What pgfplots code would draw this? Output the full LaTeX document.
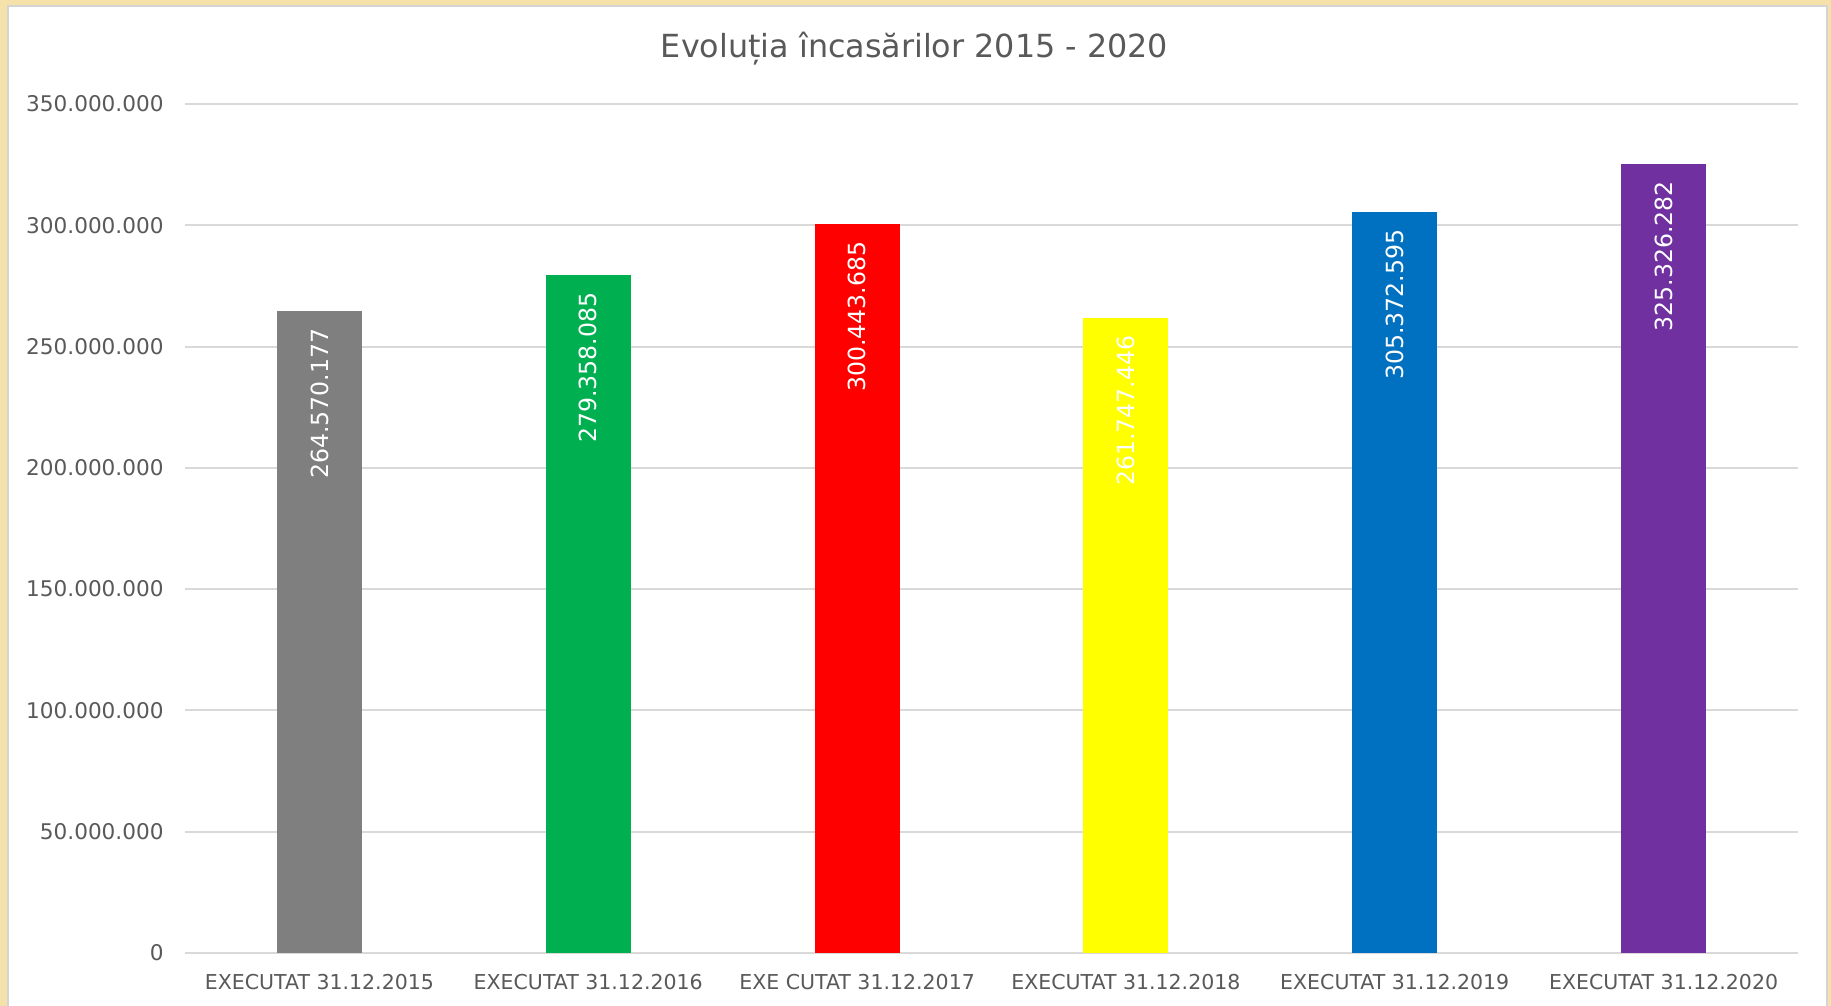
\documentclass[border=0pt]{standalone}
\usepackage{pgfplots}
\pgfplotsset{compat=1.18}
\usepackage{fontspec}
\setmainfont{DejaVu Sans}
\definecolor{bg}{RGB}{244,226,170}
\definecolor{panelgray}{RGB}{212,212,212}
\definecolor{gridgray}{RGB}{217,217,217}
\definecolor{txtgray}{RGB}{89,89,89}
\definecolor{c1}{RGB}{127,127,127}
\definecolor{c2}{RGB}{0,176,80}
\definecolor{c3}{RGB}{255,0,0}
\definecolor{c4}{RGB}{255,255,0}
\definecolor{c5}{RGB}{0,112,192}
\definecolor{c6}{RGB}{112,48,160}
\begin{document}
\begin{tikzpicture}[x=1bp,y=1bp]
\useasboundingbox (0,0) rectangle (915.5,503);
\fill[bg] (0,0) rectangle (915.5,503);
\filldraw[fill=white, draw=panelgray, line width=1.2bp] (4,-5) rectangle (913.5,500);
\node[font=\fontsize{15.9bp}{18bp}\selectfont, text=txtgray, anchor=base, inner sep=0pt] at (457.25,474.3) {Evoluția încasărilor 2015 - 2020};
\begin{axis}[
  at={(92.5bp,26.5bp)}, anchor=south west,
  scale only axis, width=806.5bp, height=424.5bp,
  xmin=-0.5, xmax=5.5, ymin=0, ymax=350000000,
  ybar, bar width=42.5bp, bar shift=0pt,
  scaled y ticks=false,
  xtick={0,1,2,3,4,5},
  xticklabels={EXECUTAT 31.12.2015, EXECUTAT 31.12.2016, EXE CUTAT 31.12.2017, EXECUTAT 31.12.2018, EXECUTAT 31.12.2019, EXECUTAT 31.12.2020},
  ytick={0,50000000,100000000,150000000,200000000,250000000,300000000,350000000},
  yticklabels={0,50.000.000,100.000.000,150.000.000,200.000.000,250.000.000,300.000.000,350.000.000},
  ymajorgrids, major grid style={gridgray, line width=1bp},
  axis line style={draw=none}, major tick length=0pt,
  tick label style={text=txtgray},
  yticklabel style={font=\fontsize{10.8bp}{12bp}\selectfont, anchor=east, inner sep=0pt, xshift=-10.5bp},
  xticklabel style={font=\fontsize{10.25bp}{12bp}\selectfont, anchor=base, inner sep=0pt, yshift=-18.5bp},
  point meta=explicit symbolic,
  nodes near coords,
  every node near coord/.append style={rotate=90, anchor=east, text=white, font=\fontsize{11.8bp}{14bp}\selectfont, inner xsep=8.5bp, inner ysep=0pt},
  clip=false,
]
\addplot[fill=c1, draw=none] coordinates {(0,264570177) [264.570.177]};
\addplot[fill=c2, draw=none] coordinates {(1,279358085) [279.358.085]};
\addplot[fill=c3, draw=none] coordinates {(2,300443685) [300.443.685]};
\addplot[fill=c4, draw=none] coordinates {(3,261747446) [261.747.446]};
\addplot[fill=c5, draw=none] coordinates {(4,305372595) [305.372.595]};
\addplot[fill=c6, draw=none] coordinates {(5,325326282) [325.326.282]};
\end{axis}
\end{tikzpicture}
\end{document}
